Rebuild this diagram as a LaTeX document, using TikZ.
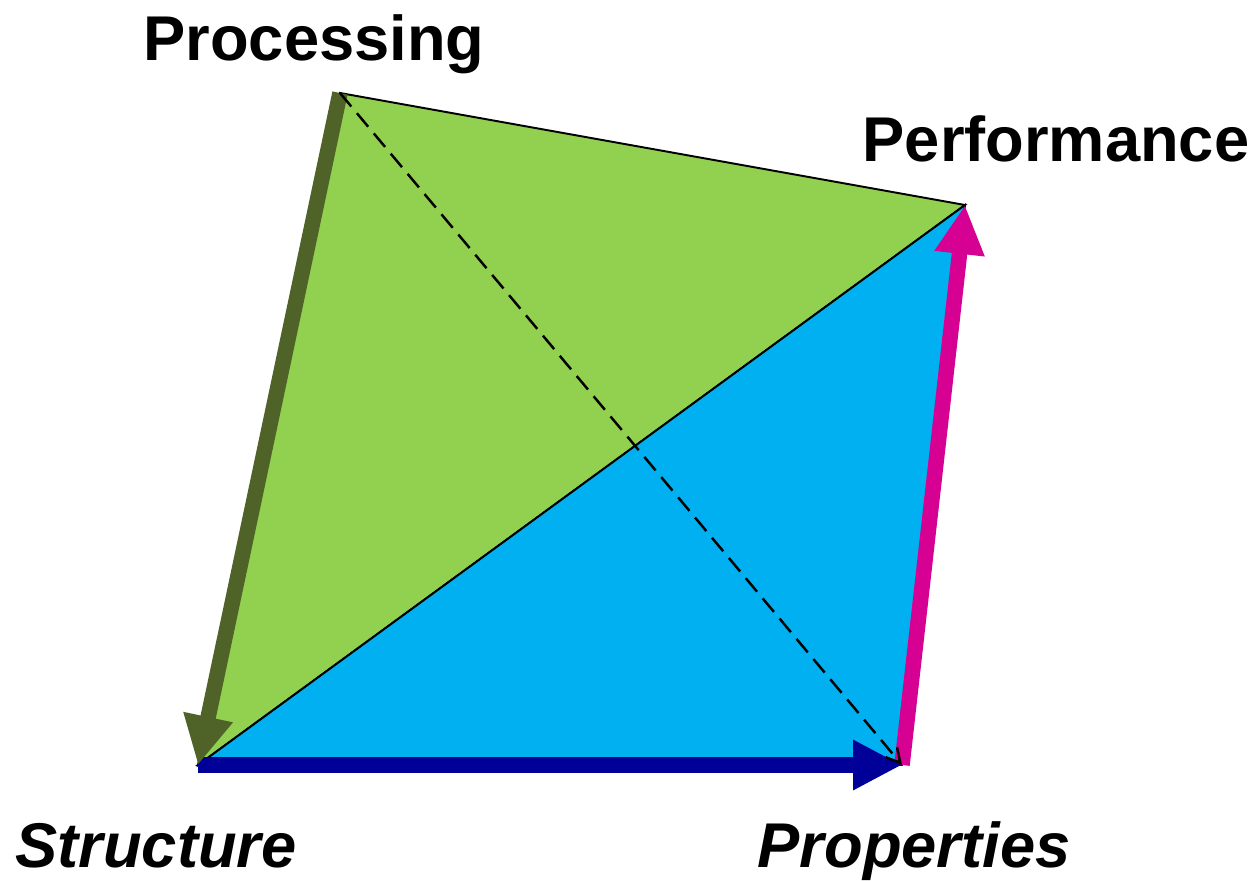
\documentclass[tikz,border=0pt]{standalone}
\usepackage{fontspec}
\setmainfont{Liberation Sans}
\usepackage{tikz}
\usetikzlibrary{arrows.meta,positioning}
\usepackage{xcolor}
\definecolor{cGreen}{RGB}{146,208,80}
\definecolor{cBlue}{RGB}{0,176,240}
\definecolor{cOlive}{RGB}{79,98,40}
\definecolor{cNavy}{RGB}{0,0,153}
\definecolor{cMagenta}{RGB}{214,0,147}
\tikzset{
  facebox/.style={draw=black,line width=1.1pt,line join=miter},
  vlabel/.style={anchor=base,inner sep=0pt,font=\fontsize{36}{40}\selectfont\bfseries},
  ivlabel/.style={vlabel,font=\fontsize{36}{40}\selectfont\bfseries\itshape},
  thkarr/.style={-{Triangle[length=0.98cm,width=0.94cm]},line width=0.31cm},
  dasharr/.style={-{Straight Barb[length=0.28cm,width=0.3cm]},line width=1.4pt,
                  dash pattern=on 10pt off 5pt}
}
\begin{document}
\begin{tikzpicture}[x=0.02cm,y=-0.02cm]
  \useasboundingbox (0,0) rectangle (1257,880);

  % corners of the tetrahedron
  \coordinate (proc)   at (340,93);
  \coordinate (perf)   at (965,205);
  \coordinate (struct) at (198,765);
  \coordinate (prop)   at (902,765);

  % faces
  \filldraw[facebox,fill=cGreen] (proc) -- (perf) -- (struct) -- cycle;
  \filldraw[facebox,fill=cBlue] (struct) -- (perf) -- (prop) -- cycle;

  % labels
  \node[vlabel]  (proclabel)   at (314,60)  {Processing};
  \node[vlabel]  (perflabel)   at (1056,161) {Performance};
  \node[ivlabel] (structlabel) at (156,867) {Structure};
  \node[ivlabel] (proplabel)   at (914,867) {Properties};

  % arrows
  \draw[thkarr,color=cMagenta] (prop) -- (perf);
  \draw[thkarr,color=cNavy] (struct) -- (prop);
  \draw[thkarr,color=cOlive] (proc) -- (struct);
  \draw[dasharr] (proc) -- (prop);

\end{tikzpicture}
\end{document}
